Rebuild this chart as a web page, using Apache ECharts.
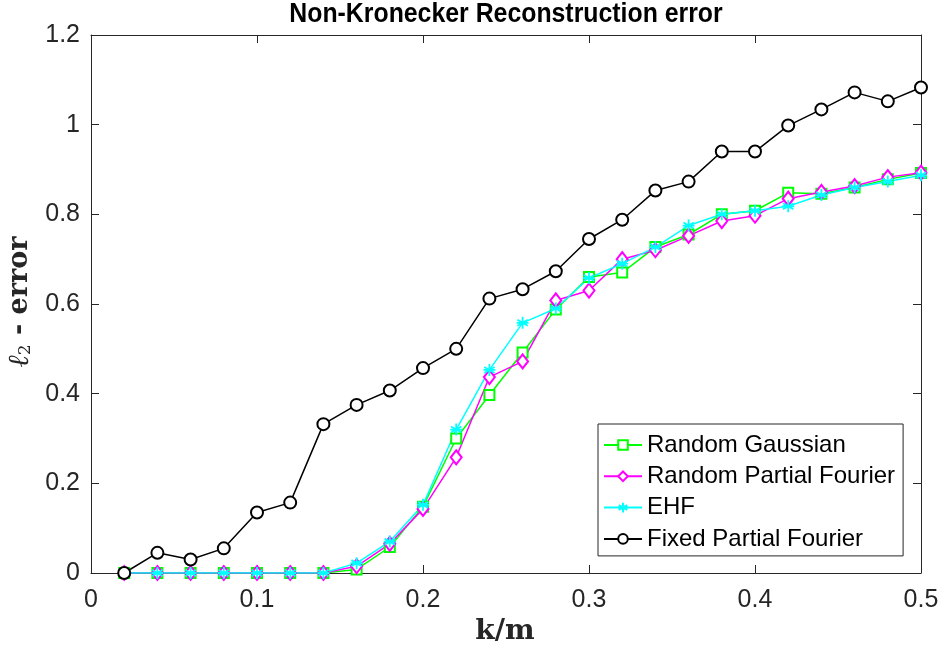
<!DOCTYPE html>
<html><head><meta charset="utf-8">
<script src="https://cdn.jsdelivr.net/npm/echarts@6/dist/echarts.min.js"></script>
<style>html,body{margin:0;padding:0;background:#fff}#c{width:942px;height:655px}</style>
</head><body><div id="c"></div>
<script>
const kOverM = [0.02,0.04,0.06,0.08,0.10,0.12,0.14,0.16,0.18,0.20,0.22,0.24,0.26,0.28,0.30,0.32,0.34,0.36,0.38,0.40,0.42,0.44,0.46,0.48,0.50];
const randomGaussian = [0,0,0,0,0,0,0,0.008,0.058,0.148,0.300,0.397,0.492,0.588,0.660,0.670,0.727,0.755,0.800,0.808,0.848,0.846,0.860,0.878,0.892];
const randomPartialFourier = [0,0,0,0,0,0,0,0.015,0.065,0.143,0.258,0.437,0.472,0.608,0.630,0.700,0.720,0.752,0.785,0.797,0.835,0.850,0.863,0.883,0.893];
const ehf = [0,0,0,0,0,0,0,0.022,0.070,0.152,0.320,0.453,0.558,0.590,0.658,0.690,0.727,0.775,0.800,0.808,0.818,0.843,0.860,0.873,0.887];
const fixedPartialFourier = [0,0.045,0.030,0.055,0.135,0.157,0.332,0.375,0.407,0.457,0.500,0.612,0.633,0.673,0.745,0.788,0.853,0.873,0.940,0.940,0.998,1.034,1.072,1.052,1.083];
const seriesNames = ['Random Gaussian','Random Partial Fourier','EHF','Fixed Partial Fourier'];

const pair = arr => kOverM.map((x,i)=>[x,arr[i]]);
const star = 'path://M0,-10 L0,10 M-8.66,-5 L8.66,5 M-8.66,5 L8.66,-5 M-10,0 L10,0';
const axisCommon = {
  axisLine:{show:true,onZero:false,lineStyle:{color:'#262626',width:1}},
  axisTick:{show:true,inside:true,length:8,lineStyle:{color:'#262626'}},
  splitLine:{show:false}
};
const chart = echarts.init(document.getElementById('c'),null,{renderer:'canvas'});
chart.setOption({
  animation:false,
  backgroundColor:'#fff',
  grid:{left:91,right:21,top:35,bottom:82},
  xAxis:[
    Object.assign({type:'value',min:0,max:0.5,interval:0.1,position:'bottom',
      axisLabel:{fontFamily:'Liberation Sans',fontSize:25,color:'#262626',margin:15}},axisCommon),
    Object.assign({type:'value',min:0,max:0.5,interval:0.1,position:'top',axisLabel:{show:false}},axisCommon)
  ],
  yAxis:[
    Object.assign({type:'value',min:0,max:1.2,interval:0.2,position:'left',
      axisLabel:{fontFamily:'Liberation Sans',fontSize:25,color:'#262626',margin:11}},axisCommon),
    Object.assign({type:'value',min:0,max:1.2,interval:0.2,position:'right',axisLabel:{show:false}},axisCommon)
  ],
  graphic:[
    {type:'text',x:506,y:15,scaleX:0.92,style:{text:'Non-Kronecker Reconstruction error',align:'center',verticalAlign:'middle',
      font:'bold 27px "Liberation Sans", Arial, sans-serif',fill:'#000'}},
    {type:'text',x:505,y:632,style:{text:'k/m',align:'center',verticalAlign:'middle',font:'bold 28px "DejaVu Serif", serif',fill:'#262626'}},
    {type:'text',x:20,y:302,rotation:Math.PI/2,style:{
      text:'{l|ℓ}{s|2}{e| - error}',align:'center',verticalAlign:'middle',
      rich:{
        l:{font:'italic 29px "DejaVu Serif", serif',fill:'#262626'},
        s:{font:'17px "DejaVu Serif", serif',fill:'#262626',verticalAlign:'bottom',padding:[12,0,0,0]},
        e:{font:'bold 27px "DejaVu Serif", serif',fill:'#262626'}
      }}}
  ],
  legend:{
    orient:'vertical',left:598,top:424,width:305,
    backgroundColor:'#fff',borderColor:'#262626',borderWidth:1,
    padding:[9,8,5,5],itemGap:7.3,itemWidth:38,itemHeight:12,
    textStyle:{fontFamily:'Liberation Sans',fontSize:24,color:'#000'},
    data:seriesNames
  },
  series:[
    {name:seriesNames[0],type:'line',data:pair(randomGaussian),color:'#00ff00',
      lineStyle:{width:1.5,color:'#00ff00'},symbol:'emptyRect',symbolSize:10,
      itemStyle:{color:'#00ff00',borderColor:'#00ff00',borderWidth:1.5}},
    {name:seriesNames[1],type:'line',data:pair(randomPartialFourier),color:'#ff00ff',
      lineStyle:{width:1.5,color:'#ff00ff'},symbol:'emptyDiamond',symbolSize:[11,14],
      itemStyle:{color:'#ff00ff',borderColor:'#ff00ff',borderWidth:1.5}},
    {name:seriesNames[2],type:'line',data:pair(ehf),color:'#00ffff',
      lineStyle:{width:1.5,color:'#00ffff'},symbol:star,symbolSize:12,
      itemStyle:{color:'#00ffff',borderColor:'#00ffff',borderWidth:1.8}},
    {name:seriesNames[3],type:'line',data:pair(fixedPartialFourier),color:'#000',
      lineStyle:{width:1.5,color:'#000'},symbol:'emptyCircle',symbolSize:12,
      itemStyle:{color:'#000',borderColor:'#000',borderWidth:1.5}}
  ]
});
</script></body></html>
